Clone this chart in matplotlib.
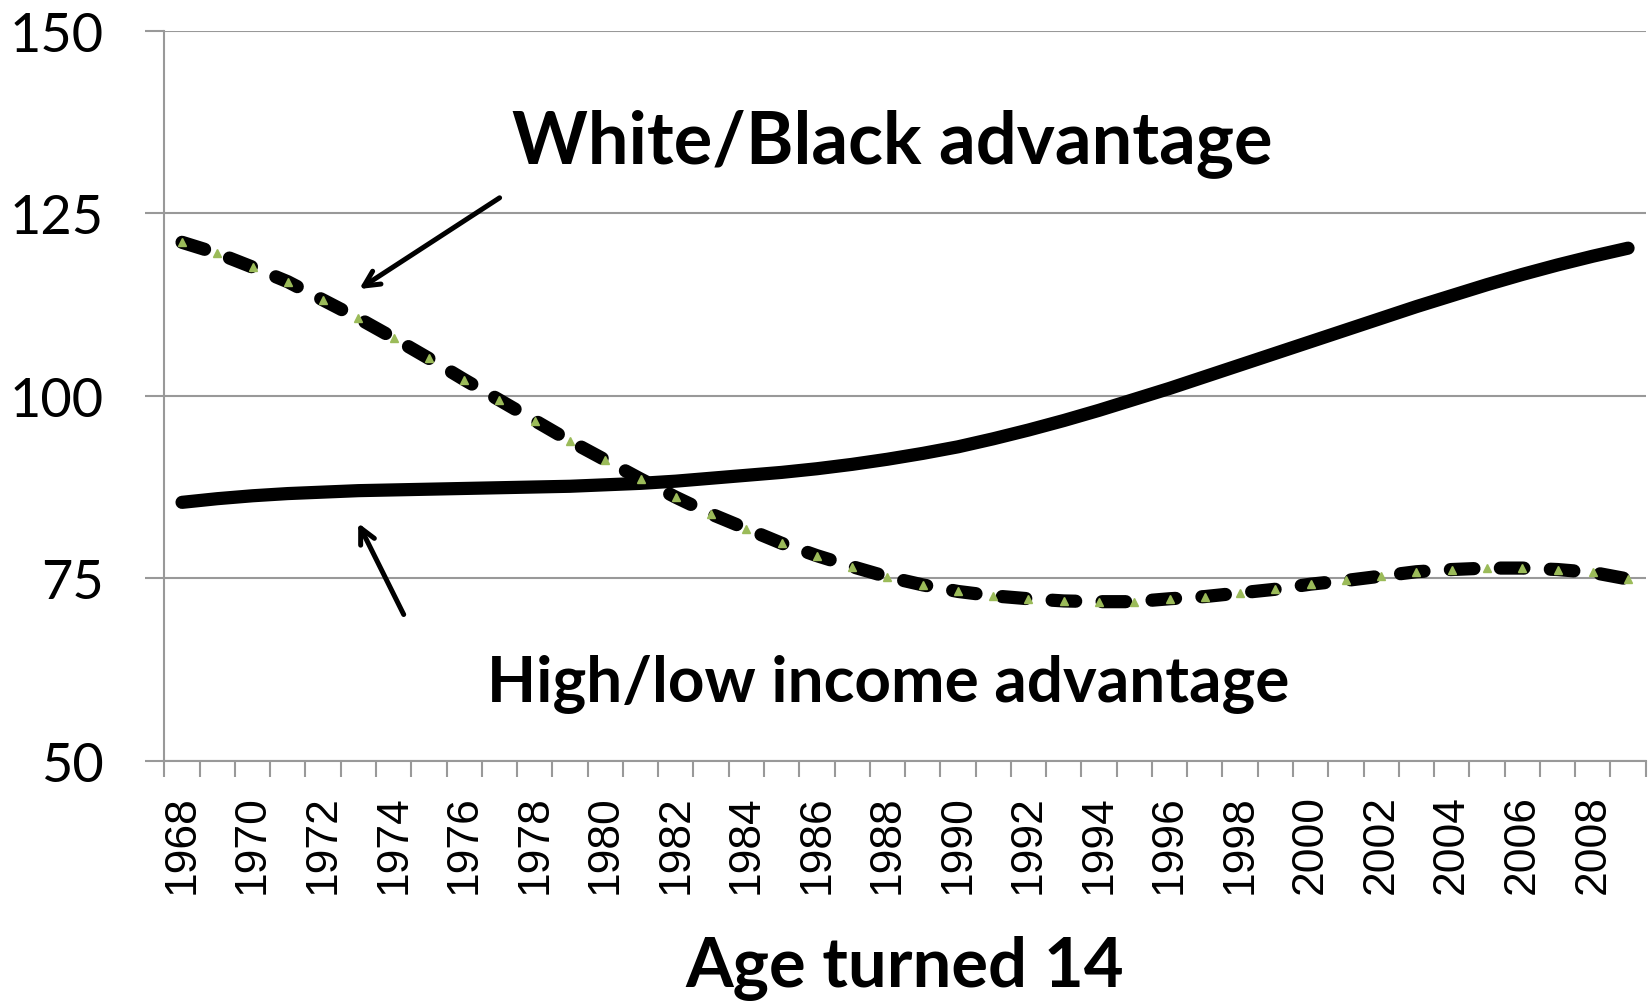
import matplotlib
matplotlib.use("Agg")
import matplotlib.pyplot as plt
import numpy as np

plt.rcParams['lines.scale_dashes'] = False

years = list(range(1968, 2010))
income_adv = [85.4, 85.9, 86.3, 86.6, 86.8, 87.0, 87.1, 87.2, 87.3, 87.4,
              87.5, 87.6, 87.8, 88.0, 88.3, 88.7, 89.1, 89.5, 90.0, 90.6,
              91.3, 92.1, 93.0, 94.1, 95.3, 96.6, 98.0, 99.5, 101.0, 102.6,
              104.2, 105.8, 107.4, 109.0, 110.6, 112.2, 113.7, 115.2, 116.6, 117.9,
              119.1, 120.2]
race_adv = [121.0, 119.5, 117.6, 115.6, 113.1, 110.6, 107.9, 105.1, 102.2, 99.4,
            96.6, 93.8, 91.2, 88.6, 86.1, 83.8, 81.8, 79.8, 78.1, 76.6,
            75.2, 74.1, 73.2, 72.6, 72.2, 71.9, 71.8, 71.8, 72.2, 72.5,
            73.0, 73.5, 74.2, 74.7, 75.3, 75.9, 76.2, 76.4, 76.4, 76.2,
            75.8, 74.9]
yticks = [50, 75, 100, 125, 150]
xlabels = [str(y) if y % 2 == 0 else "" for y in years]

W, H = 1648, 1003
fig = plt.figure(figsize=(W / 100, H / 100), dpi=100)
ax = fig.add_axes([164.4 / W, 1 - 761.9 / H, (1645.7 - 164.4) / W, (761.9 - 31.5) / H])

gray = '#999999'
x = np.arange(len(years))

ax.plot(x, income_adv, color='black', lw=9.5, solid_capstyle='round',
        solid_joinstyle='round', zorder=3)
ax.plot(x, race_adv, color='black', lw=9.5, dashes=(17, 19), dash_capstyle='round',
        dash_joinstyle='round', zorder=4)
ax.plot(x, race_adv, ls='none', marker='^', ms=6, color='#9BBB59', mec='#9BBB59', zorder=5)

ax.set_xlim(-0.5, len(years) - 0.5)
ax.set_ylim(50, 150)
ax.set_yticks(yticks)
ax.set_yticklabels([str(v) for v in yticks], fontfamily='Lato', fontsize=39)
ax.tick_params(axis='y', length=13.5, width=1.5, color=gray, pad=30)
ax.grid(axis='y', color=gray, lw=1.5, zorder=0)

ax.set_xticks(x)
ax.set_xticklabels(xlabels, rotation=90, fontfamily='Liberation Sans', fontsize=32)
ax.tick_params(axis='x', which='major', length=0, pad=24)
ax.set_xticks(np.arange(-0.5, len(years)), minor=True)
ax.tick_params(axis='x', which='minor', length=11.5, width=1.5, color=gray)

for s in ['top', 'right']:
    ax.spines[s].set_visible(False)
for s in ['left', 'bottom']:
    ax.spines[s].set_color(gray)
    ax.spines[s].set_linewidth(1.5)

ax.text(20.13, 134.7, "White/Black advantage", fontfamily='Lato', fontweight='bold',
        fontsize=52, ha='center', va='center')
ax.text(20.02, 60.8, "High/low income advantage", fontfamily='Lato', fontweight='bold',
        fontsize=46, ha='center', va='center')
fig.text(905 / W, 1 - 969 / H, "Age turned 14", fontfamily='Lato', fontweight='bold',
         fontsize=49.5, ha='center', va='center')

arrow = dict(arrowstyle='->,head_length=1.1,head_width=0.55', color='black', lw=3.6)
ax.annotate("", xy=(4.96, 114.4), xytext=(9.07, 127.3), arrowprops=arrow)
ax.annotate("", xy=(4.96, 82.9), xytext=(6.32, 69.7), arrowprops=arrow)

fig.savefig("out.png", dpi=100)
